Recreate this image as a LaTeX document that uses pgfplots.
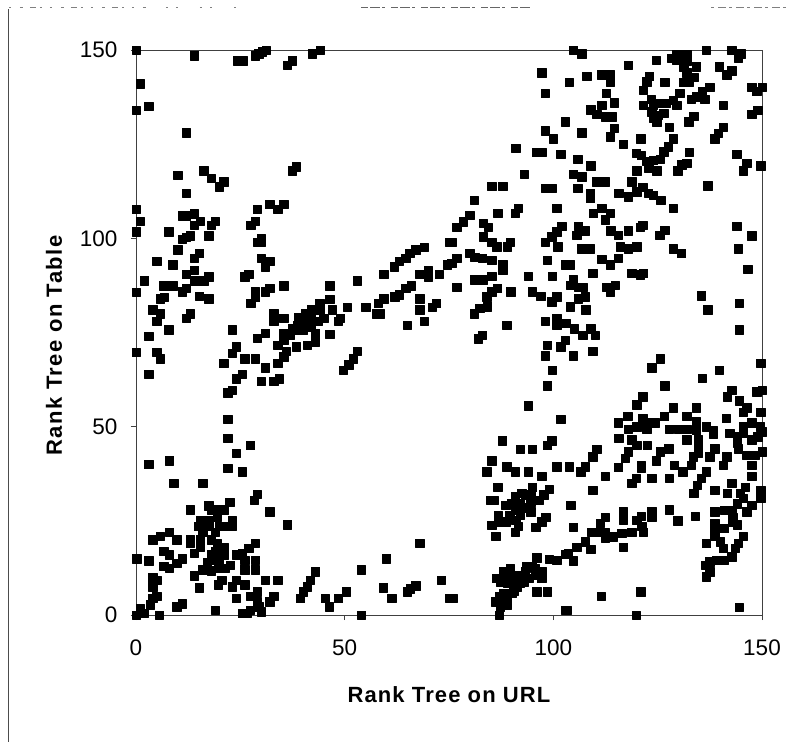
\documentclass[border=0pt]{standalone}
\usepackage{fontspec}
\setmainfont{Liberation Sans}
\usepackage{pgfplots}
\pgfplotsset{compat=1.18}
\begin{document}
\begin{tikzpicture}[x=1pt,y=1pt]
\path[use as bounding box] (-136,-127) rectangle (660,615);
\draw[black!70,line width=0.7pt] (-127.5,-127) -- (-127.5,606);
\draw[black!50,line width=0.6pt,dash pattern=on 2pt off 9pt on 3pt off 7pt on 6pt off 4pt on 2pt off 8pt] (-127,608) -- (10,608);
\draw[black!50,line width=0.6pt,dash pattern=on 2pt off 8pt on 2pt off 22pt] (30,608) -- (100,608);
\draw[black!60,line width=0.6pt,dash pattern=on 7pt off 2pt on 10pt off 2pt on 3pt off 6pt] (225,608) -- (395,608);
\draw[black!50,line width=0.6pt,dash pattern=on 3pt off 4pt on 8pt off 3pt] (575,608) -- (650,608);
\begin{axis}[
  at={(0,0)},anchor=origin,
  scale only axis,width=626pt,height=565pt,
  xmin=0,xmax=150,ymin=0,ymax=150,
  clip=false,
  xtick={0,50,100,150},ytick={0,50,100,150},
  tick pos=left,tick align=outside,
  major tick length=5pt,
  axis line style={black!75,line width=0.9pt},
  tick style={black!75,line width=0.8pt},
  /pgf/number format/assume math mode=true,
  tick label style={font=\fontsize{22.5}{26}\selectfont},
  xticklabel style={yshift=-16pt},
  yticklabel style={xshift=-10pt},
  xlabel={\fontsize{22}{26}\selectfont\bfseries\addfontfeature{LetterSpace=5}Rank Tree on URL},
  ylabel={\fontsize{22}{26}\selectfont\bfseries\addfontfeature{LetterSpace=6.5}Rank Tree on Table},
  xlabel style={at={(axis description cs:0.5,0)},anchor=center,yshift=-80pt},
  ylabel style={at={(axis description cs:0,0.5)},anchor=center,xshift=-13pt,yshift=82pt},
]
\addplot[only marks,mark=square*,mark size=4.2pt,color=black,mark options={fill=black,line join=round}] coordinates {
(0,150)(14,148.5)(24.3,147.2)(25.6,147.2)(28.6,148.5)(29.4,149)(30.2,149.6)(31.2,150)(36.3,146)(37.5,147.2)(42.2,149)(44.2,150)
(1,141)(3,135)(0,134)(12,128)(38.4,119)(37.4,118)(10,116.7)(16.2,118)(18,116)(21,115)(20,113.7)(12,112)(32,109)(34,107.7)(35.4,109)(29,107.7)(0,107.7)(1,104.6)
(11,106)(12,106)(14,106.5)(14,103.5)(15.4,104.6)(18,103.5)(19,104.6)(27.5,103.5)(28.6,104.6)(0,101.8)(7.8,101.8)(11,99.8)(12,100.3)(13,100.7)(17.4,100.7)
(29,99)(30,100)(30,99)(10,97)(15.2,96)(14,94.7)(5,94)(8.8,93)(30,94.7)(32,94)(31,92.5)(14,91.6)(12,90.4)(17.4,89.8)(16.3,88.8)(15.2,88.8)(14,88.8)(27,90.4)(26,89.8)(2,88.8)
(6.6,87.4)(8.8,87.4)(12,86.7)(11,85.8)(35.4,87.4)(32,86.7)(31,85.8)(28.6,85.8)(28.6,84.3)(27.5,82.7)(0,85.7)(46.4,87.4)(53,88.8)
(69,97.6)(67,97)(65.6,96)(64.6,94.7)(63,94)(61.8,92.5)(59.4,90.4)(75,99)(74.6,93)(72.6,90.4)(70,91.6)(70,89.8)(68,90.4)(66,87.4)(64.6,86.7)(63,85)(62,84.5)(59.4,84)(58,82.7)
(55,81.7)(50.6,81.7)(57.6,80)(58.4,80)(68,84)(68,81)(72,82.7)(71,81.7)(69,78)(65,77)(46.4,83.8)(44,82.7)(42,81)(44,81)(47,81)(40.5,80)(45,78.8)(49,78.8)(48.5,78)
(33,80)(33,78)(35.4,78.8)(7.8,75.7)(3,74)(23,75.7)(31,74.8)(29,73.5)(46.4,74.6)(5.8,84)(6.7,84.3)(4,81)(5.8,80)(5,78)(15.2,84.7)(17.4,84)(13,80)(12,78.8)
(35.4,74.8)(37,74.8)(38,75.7)(39.4,76.5)(40.5,77.4)(42,79)(38.6,77)(40,75.7)(43,74.8)(41,78)(39,79)(37.5,76)(42,76.5)(43.5,78)
(0,69.7)(5,69.7)(5.8,68)(3,64)(34,71.7)(35.4,73)(37,74.3)(43,72.6)(41,71.7)(38.4,71.2)(36,70)(34,66.8)(35.4,68.6)(24,71.2)(23,69.5)(21,66.8)(26,68)(28.6,68)(31,65.7)
(25.4,64)(24,62.7)(23,59.7)(22,59)(30,62)(33,62)(34.3,62.7)(53,70)(52,68)(51,66.4)(49.6,65)(22,52)(22,47)(27.4,45)(24,43)(22,39)(25.4,38)(3,40)(8,41)(9,35)(16,35)
(29,32)(28.3,30.5)(22.5,30)(17.4,29)(13,28)(18,28)(20,28)(19.4,26)(21,28)(32,27.4)(36.3,24)(15.4,25)(17.4,25)(15,23.5)(17.4,23.5)(20,23.5)(23,25)(23,23.5)(21.8,23.5)(68,19)
(8,22)(5.8,21)(4,20)(9.8,20)(13,20)(13,19)(15.4,20)(18,20)(19.4,19)(21,18)(15.4,18)(18,16)(20,16.4)(14,16.4)(28.5,19)(27,17.7)(25.4,16.4)(24,16)(19,17)(21,16)(17,14)(16,22)(19,22)
(6.6,17)(8,16)(11,15)(9.8,13.7)(8,12.4)(6.6,13)(0.2,15)(3,14.4)(18,14.6)(20,14.6)(22.6,13.3)(21.4,12.4)(19.7,12.4)(18,11.8)(16,12)(26,14.6)(28.6,14.6)(26,12)(28.6,12)
(43,11.5)(41.7,9.3)(41,7.5)(40,6.2)(39.4,4.4)(54,12)(60,15)(4,10)(5,9.3)(4,7.5)(5,5)(4,4.4)(3.4,2.7)(14,10.4)(15.2,7.3)(20.5,9.3)(19.7,8)(23,7.5)(24,9.3)(26,8)(31,9.3)(34,9.3)
(29,6.2)(27.4,5)(24,4.4)(33,5)(32,3.5)(29,3.5)(29.4,2.2)(27.4,1.3)(25.4,0.4)(26.6,0.4)(11,3)(9.8,2.2)(19,1.3)(1,1.8)(0,0)(1.8,0.4)(5.6,0)(30,0.9)
(50.4,6.2)(48.5,4.4)(45.3,4.4)(46.3,2.2)(54,0)(59.3,7.3)(61.3,4.4)(65,6.2)(65.7,7)(67,7.8)(73.2,9.3)(75.2,4.4)
(104.8,150)(106.8,149)(118,146)(124.6,147.3)(128.4,147.8)(129.6,148.7)(130.8,148.7)(132,148.7)(129.6,147.3)(130.8,147.3)(132,147)(131.2,145.6)(134.3,145.6)(132,144)
(136.6,150)(142.7,150)(145,149)(144.3,148)(139.8,145.6)(141.5,143.4)(142.7,144.5)(97.2,144)(108,143)(103.8,141.4)(111.6,143.4)(113.6,143.4)(113.6,141.6)
(123,143)(122.4,141.6)(121.6,139.4)(126.7,141.4)(131.1,141.4)(132.4,141.4)(133.6,142.7)(137.5,140.2)(135.6,139)(134.3,137.6)(136.3,137)(133,137)(130.3,138.5)(128.7,136.7)(129.6,135.4)
(98,138.5)(112.6,138.5)(147.5,140.2)(150,140.2)(148.7,139)(123.4,137)(121.6,135.4)(124,135.4)(125.5,135.8)(127,135.8)(140.7,135.4)(114.6,136)(111.6,135.4)(109,134.2)
(110.4,133)(112.4,132.3)(114,132.3)(123.6,133.6)(125,132.7)(126.4,133.2)(124,131.9)(124.8,131)(149,134)(147.5,133)(133.6,132.5)(132.4,131)(102.8,131)(98,128.6)(100,126.4)(106.8,128)
(114.6,129.2)(113.6,127)(127.7,129.5)(140.7,129.5)(139.5,127.9)(138.7,126.4)(120.9,126.5)(116.8,125)(128.7,126.5)(127.5,124.3)(126.4,123)(91,124)(95.9,122.8)(97.2,122.8)(101.8,122.3)(105.8,121)
(119.9,122.6)(121,122)(122.4,120.4)(124,120.7)(125.6,121)(132.5,122.8)(143.9,122.3)(109,119.3)(120,118)(122.8,118.6)(124.8,118)(123,120.4)(132,120)(130.8,119.5)(129.8,118)(146.3,120)(145.5,118)(149.7,119.3)
(93,117)(104.8,117)(106.8,116.4)(110.4,115)(112.4,115)(118.8,115)(85.2,113.9)(87.9,113.9)(98,113.3)(99.6,113.3)(105.8,113.3)(108.9,112)(108.9,110.6)(121.4,113.5)(120,112.4)(118,111)(115.7,112)
(122.8,112)(124,111.5)(125.7,110.2)(81,110.2)(128.7,108)(137,114)(100.8,108)(91.6,108)(90.8,106.6)(86.7,106.6)(111.6,108)(113.6,106.6)(109.6,106.6)(112.4,104.9)(80,106.2)(78.4,104.4)(76.8,103)(83.2,104)(84.4,103)
(102,103.3)(100.8,101.8)(99.6,100.4)(98,99)(106,103.3)(107.6,102)(105.6,100.9)(121.4,103.5)(120.8,103)(113.7,102)(115.6,100.9)(118,102)(126.7,102.2)(125.5,100.9)(143.9,103.3)(147.5,100.7)
(83.2,100.4)(85.2,99)(86.4,97.8)(89.6,99)(89,97.8)(75.6,99)(101,97.8)(106.8,97.2)(108.8,97.2)(116,97.8)(118,97.2)(120,97.8)(128.7,97.3)(130.7,96)(144.3,97.2)
(80,96)(81.2,95)(83,94.7)(85.2,94.2)(76.8,94.7)(75.6,93.4)(98.6,94.2)(111.6,94.4)(115.6,94.7)(113.6,93)(87.9,93)(87.9,91.6)(102.8,93)(104,93)(146.6,91.8)(109.4,90.7)(118.8,90.7)(120.8,90.3)(121.6,90.7)
(85.2,90)(83.2,89)(81,89)(82,89)(94,90)(99.8,90)(104.8,89)(104,87.6)(106,87)(107,87)(114.8,87.6)(112.8,87)(113.6,85.8)(86.6,86.7)(85.2,85.8)(84,84.5)(89.8,85.8)(76.8,87)(95,85.8)(97,84.7)
(100.8,84.5)(99.6,83.2)(107.6,84.5)(106,84)(84.2,81.9)(82.4,81.4)(81,80)(104,81.9)(107.8,81)(135.5,84.8)(137,81)(144.5,82.7)(88.8,77)(98,78)(100.8,78.8)(100.8,77)(103,77.4)(105,76)(107,74.3)(109,76)(110,74.3)(144.5,75.7)(83,74.3)(82,73.4)
(98.6,71.7)(102.8,73)(101.8,71.2)(98,68.8)(104.8,68.8)(109.4,70)(99.8,65)(98.6,60.9)(94,55.6)(101.8,52)(125.6,68)(123.6,65.7)(139.8,65)(135.6,62.8)(126.7,60.9)(149.7,66.8)(142.7,59.7)(141.7,58)(148.7,59.3)(150,59.7)
(121.4,58)(120,55.8)(144.6,56.9)(146.3,55)(145.5,53.8)(128.7,55)(134.3,55)(149.7,53.8)(117.8,52.7)(115.6,51)(118,49.4)(120,50)(121.4,52.2)(122.4,51)(122.4,49.4)(124.4,51)(126.6,52.7)(132,52.7)(134.3,51.3)(141.4,52.2)
(127.8,49.4)(130,49.4)(132,49.4)(132,46.5)(134.3,49)(136.7,50)(138.3,49)(138.3,48)(145.5,50)(147.5,51)(149.5,50)(150,48.7)(145.5,48.2)(147.5,46.5)(149,47.3)(142.3,48.2)(144,47.3)(144,45.6)(144.3,44.2)
(115.7,46.9)(118.8,46.5)(120,45)(122.5,45)(99.6,46.3)(98.6,45)(87.8,46.3)(92,44)(95,44)(110.4,44)(109.4,42)(134.7,46.5)(134.7,44.7)(134.7,42.9)(133.5,42)(138.7,44.2)(137.5,42)(127.6,44.2)(125.6,43.4)(124.6,41)
(118,43.4)(117.2,41.6)(115.6,39.2)(85.2,41)(88.8,39.4)(90.8,38)(94,38)(97.2,36.9)(84,38)(100.8,39.4)(103.8,39.4)(107.6,39.4)(106.6,38)(121,39.8)(121,39)(129,39.8)(131,38)(133,39.8)(141.5,42)(140.7,39.8)
(146.3,42.5)(148.3,42.5)(150,43.4)(147.5,39.8)(112.4,36.9)(119.8,36.3)(118.8,35)(123.6,36.3)(127.7,36.3)(136.7,38)(135.5,36.3)(134.5,34.5)(133.6,32.3)(147.5,36.9)(142.7,35)(86.7,33.9)(95,33.9)(109.4,33.2)
(99,33.4)(97.7,31.9)(96.5,30.5)(94.6,30)(92.4,32.3)(90.8,31.4)(90,29.6)(92,29.6)(88.6,29.2)(90.8,27.9)(94.6,27.4)(92,26.5)(91,25.2)(88.6,24.8)(86.8,26.5)(86.8,24.8)(85,30.5)(85.8,30.5)(93.2,31.9)(94.6,31.9)(89.5,26.5)(93,28.5)
(138.7,33.2)(141.7,32.3)(146,34)(144.8,32.3)(145.5,31)(149.7,33.2)(149.7,31)(104.2,29.2)(146.3,27.4)(147.5,29.2)(144,29.6)(142.7,27.9)(141,27.9)(138.7,27.4)(143,26)(143,24.8)(98.2,26)(97.2,24.8)(95.8,23.3)
(85.2,23.9)(91.6,23.5)(90.8,22)(86.2,21)(104.8,23.3)(112.4,26)(116.8,27.4)(116.8,25.2)(121,26.3)(120,25.2)(123.6,27.4)(123.6,26)(127.7,28)(129.8,25)(134,26.3)(138.7,24.2)(141,23)(144,24)(138.7,22.6)
(111.2,24.3)(109.2,22)(110.4,22)(112.4,22)(112.4,20.4)(114.4,20.8)(116.4,21.7)(118.8,22)(121.2,23.5)(121.6,22)(145.5,21)(144.3,19)(143.6,17.7)(138.7,21)(136.7,19)(140,19.5)(140.7,17.7)(142.7,15.5)(141,14.6)(139,14.6)(137.5,14.2)(136.5,13.3)(136.7,10.2)(137.5,11.5)
(116.8,18)(107.6,19.5)(105.6,18)(103.6,16.4)(109,17.4)(103,16.2)(100.8,14.6)(99,14.8)(104.8,14.4)(96,15.2)(94.8,12.8)(93.2,11.5)(91.6,10.6)(89.6,12.4)(88,11.5)(86.4,9.7)(87.2,8.8)
(97.2,11.5)(95.6,10.6)(97.2,9.7)(94.2,9.7)(93,8.8)(91.2,7.5)(90,5.8)(88.8,4)(88,5.8)(87,4.9)(86,3.5)(87.2,2.2)(87,0)(89,2.7)(96,6.2)(98.6,6.2)(111.4,5)(120.9,6.2)(102.8,1.3)(103.2,1.3)(119.8,0)(144.5,2)(75.9,4.4)
(92.5,10.5)(90.5,10)(89,8.5)(92,8.5)(90.5,6.5)(95.5,12.5)(93.5,13)(88.5,10)
};
\end{axis}
\end{tikzpicture}
\end{document}
